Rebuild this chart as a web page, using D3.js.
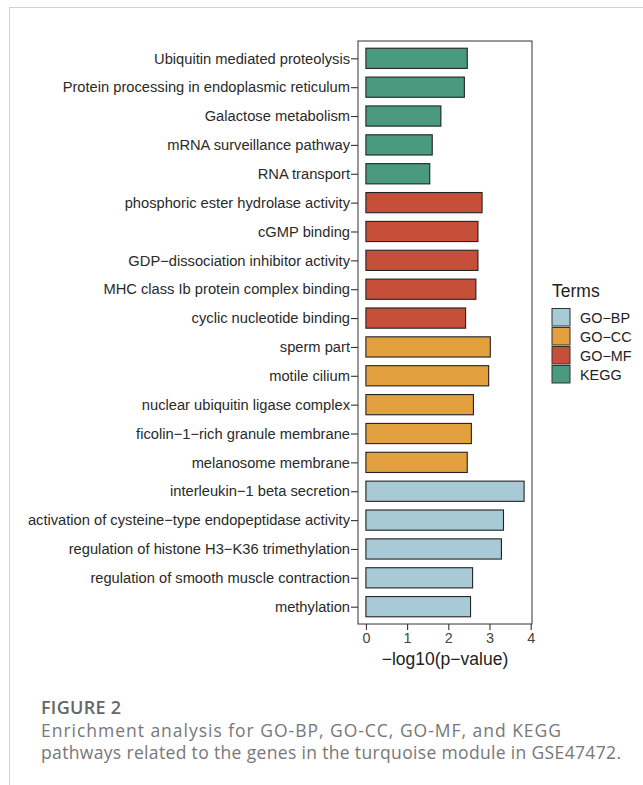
<!DOCTYPE html>
<html>
<head>
<meta charset="utf-8">
<script src="https://cdn.jsdelivr.net/npm/d3@7/dist/d3.min.js"></script>
<style>
  html, body { margin: 0; padding: 0; background: #fff; }
  svg { display: block; }
</style>
</head>
<body>
<svg id="fig" width="643" height="785"></svg>
<script>
// Enrichment terms, top to bottom
const terms = [
  "Ubiquitin mediated proteolysis",
  "Protein processing in endoplasmic reticulum",
  "Galactose metabolism",
  "mRNA surveillance pathway",
  "RNA transport",
  "phosphoric ester hydrolase activity",
  "cGMP binding",
  "GDP\u2212dissociation inhibitor activity",
  "MHC class Ib protein complex binding",
  "cyclic nucleotide binding",
  "sperm part",
  "motile cilium",
  "nuclear ubiquitin ligase complex",
  "ficolin\u22121\u2212rich granule membrane",
  "melanosome membrane",
  "interleukin\u22121 beta secretion",
  "activation of cysteine\u2212type endopeptidase activity",
  "regulation of histone H3\u2212K36 trimethylation",
  "regulation of smooth muscle contraction",
  "methylation"
];
// -log10(p-value) for each term
const logP = [2.46, 2.39, 1.82, 1.61, 1.55,
              2.82, 2.72, 2.72, 2.67, 2.42,
              3.02, 2.98, 2.61, 2.56, 2.46,
              3.84, 3.34, 3.29, 2.59, 2.54];
const termGroup = ["KEGG","KEGG","KEGG","KEGG","KEGG",
                   "GO\u2212MF","GO\u2212MF","GO\u2212MF","GO\u2212MF","GO\u2212MF",
                   "GO\u2212CC","GO\u2212CC","GO\u2212CC","GO\u2212CC","GO\u2212CC",
                   "GO\u2212BP","GO\u2212BP","GO\u2212BP","GO\u2212BP","GO\u2212BP"];
const groups = ["GO\u2212BP", "GO\u2212CC", "GO\u2212MF", "KEGG"];
const groupColors = ["#a8c9d6", "#e2a03f", "#c64f3a", "#4a9a80"];
const xTicks = [0, 1, 2, 3, 4];

const svg = d3.select("#fig");
const labelFont = "'Liberation Sans', Arial, Helvetica, sans-serif";
const captionFont = "'Open Sans', Lato, sans-serif";

// page frame lines
svg.append("line").attr("x1", 9).attr("x2", 643).attr("y1", 7.5).attr("y2", 7.5)
  .attr("stroke", "#d0d0d0").attr("stroke-width", 1);
svg.append("line").attr("x1", 9.5).attr("x2", 9.5).attr("y1", 7).attr("y2", 785)
  .attr("stroke", "#d0d0d0").attr("stroke-width", 1);

// panel geometry
const panel = { left: 358, right: 532, top: 41, bottom: 624 };
const maxV = d3.max(logP);
const pad = maxV * 0.05;
const x = d3.scaleLinear().domain([-pad, maxV + pad]).range([panel.left, panel.right]);
const y = d3.scalePoint().domain(terms).range([panel.top, panel.bottom]).padding(0.6);
const barH = y.step() * 0.7;
const color = d3.scaleOrdinal().domain(groups).range(groupColors);

// bars
svg.append("g").selectAll("rect")
  .data(terms)
  .join("rect")
  .attr("x", x(0))
  .attr("y", (d) => y(d) - barH / 2)
  .attr("width", (d, i) => x(logP[i]) - x(0))
  .attr("height", barH)
  .attr("fill", (d, i) => color(termGroup[i]))
  .attr("stroke", "#222")
  .attr("stroke-width", 1.1);

// panel border
svg.append("rect")
  .attr("x", panel.left).attr("y", panel.top)
  .attr("width", panel.right - panel.left).attr("height", panel.bottom - panel.top)
  .attr("fill", "none").attr("stroke", "#333").attr("stroke-width", 1);

// y axis
const yAxis = svg.append("g")
  .attr("transform", `translate(${panel.left},0)`)
  .call(d3.axisLeft(y).tickSize(7).tickPadding(1));
yAxis.select(".domain").remove();
yAxis.selectAll(".tick line").attr("stroke", "#333").attr("stroke-width", 1.1);
yAxis.selectAll(".tick text")
  .attr("font-family", labelFont).attr("font-size", 14.7).attr("fill", "#2a2a2a");

// x axis
const xAxis = svg.append("g")
  .attr("transform", `translate(0,${panel.bottom})`)
  .call(d3.axisBottom(x).tickValues(xTicks).tickFormat(d3.format("d")).tickSize(6).tickPadding(3));
xAxis.select(".domain").remove();
xAxis.selectAll(".tick line").attr("stroke", "#333").attr("stroke-width", 1.1);
xAxis.selectAll(".tick text")
  .attr("font-family", labelFont).attr("font-size", 14.4).attr("fill", "#444");

svg.append("text")
  .attr("x", (panel.left + panel.right) / 2).attr("y", 665)
  .attr("text-anchor", "middle")
  .attr("font-family", labelFont).attr("font-size", 17.5).attr("fill", "#222")
  .text("\u2212log10(p\u2212value)");

// legend
const legend = svg.append("g").attr("transform", "translate(552,0)");
legend.append("text").attr("x", 0).attr("y", 297)
  .attr("font-family", labelFont).attr("font-size", 17.5).attr("fill", "#222")
  .text("Terms");
const items = legend.selectAll("g.item").data(groups).join("g")
  .attr("class", "item")
  .attr("transform", (d, i) => `translate(0,${308.5 + i * 19})`);
items.append("rect")
  .attr("width", 18).attr("height", 17.5)
  .attr("fill", (d) => color(d)).attr("stroke", "#333").attr("stroke-width", 1);
items.append("text")
  .attr("x", 28).attr("y", 14)
  .attr("font-family", labelFont).attr("font-size", 14.4).attr("fill", "#222")
  .text((d) => d);

// caption
svg.append("text").attr("x", 41).attr("y", 714)
  .attr("font-family", captionFont).attr("font-size", 18).attr("font-weight", 600)
  .attr("fill", "#666").attr("textLength", 80).attr("lengthAdjust", "spacing")
  .text("FIGURE 2");
const captionLines = [
  "Enrichment analysis for GO-BP, GO-CC, GO-MF, and KEGG",
  "pathways related to the genes in the turquoise module in GSE47472."
];
const captionWidths = [520, 580];
svg.append("g").selectAll("text").data(captionLines).join("text")
  .attr("x", 41).attr("y", (d, i) => 737 + i * 22)
  .attr("font-family", captionFont).attr("font-size", 17.5)
  .attr("textLength", (d, i) => captionWidths[i]).attr("lengthAdjust", "spacing")
  .attr("fill", "#777").text((d) => d);
</script>
</body>
</html>
